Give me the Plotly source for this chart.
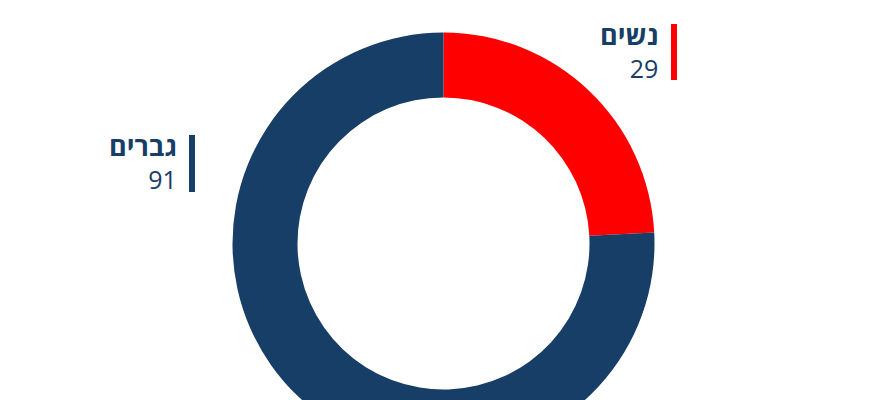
import plotly.graph_objects as go

# data
labels = ["נשים", "גברים"]
values = [29, 91]
colors = ["#ff0000", "#163e66"]

W, H = 870, 460


def py(y):
    # pixel from top -> paper y
    return 1 - y / H


def px_(x):
    return x / W


fig = go.Figure(go.Pie(
    labels=labels,
    values=values,
    hole=0.692,
    sort=False,
    direction="clockwise",
    rotation=0,
    marker=dict(colors=colors, line=dict(width=0)),
    textinfo="none",
    hoverinfo="label+value",
    domain=dict(x=[px_(232.5), px_(654.5)], y=[py(454.5), py(32.5)]),
))

# side labels: name over value, with a coloured bar next to them
label_pos = [
    dict(x=660, y=50, bar=(671, 24, 677, 80)),
    dict(x=179, y=161, bar=(189, 135, 195, 192)),
]
for lab, val, col, p in zip(labels, values, colors, label_pos):
    fig.add_annotation(x=px_(p["x"]), y=py(p["y"]), xref="paper", yref="paper",
                       text=f"<span style='font-size:27px'><b>{lab}</b></span><br>{val}",
                       showarrow=False, xanchor="right", yanchor="middle", align="right",
                       font=dict(size=25, color="#163e66"))
    x0, y0, x1, y1 = p["bar"]
    fig.add_shape(type="rect", xref="paper", yref="paper",
                  x0=px_(x0), x1=px_(x1), y0=py(y1), y1=py(y0),
                  fillcolor=col, line=dict(width=0))

fig.update_layout(
    width=W, height=H,
    margin=dict(l=0, r=0, t=0, b=0),
    showlegend=False,
    paper_bgcolor="white",
    plot_bgcolor="white",
    font=dict(family="Open Sans, DejaVu Sans, sans-serif"),
)

fig.write_html("out.html", config={"displayModeBar": False},
               post_script="document.body.style.margin='0';document.body.style.overflow='hidden';")
